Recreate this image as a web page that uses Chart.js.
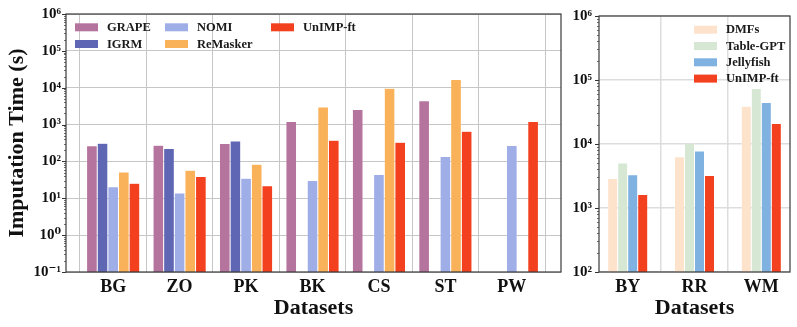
<!DOCTYPE html>
<html><head><meta charset="utf-8">
<script src="https://cdn.jsdelivr.net/npm/chart.js@4/dist/chart.umd.min.js"></script>
<style>
html,body{margin:0;padding:0;background:#fff;}
#wrap{position:relative;width:797px;height:327px;overflow:hidden;}
#c1box{position:absolute;left:0;top:0;width:566px;height:327px;}
#c2box{position:absolute;left:566px;top:0;width:231px;height:327px;}
</style></head><body>
<div id="wrap"><div id="c1box"><canvas id="c1"></canvas></div><div id="c2box"><canvas id="c2"></canvas></div></div>
<script>
// ---- data (left panel) ----
const leftCategories = ['BG','ZO','PK','BK','CS','ST','PW'];
const GRAPE     = [265, 275, 305, 1210, 2580, 4430, null];
const IGRM      = [310, 225, 360, null, null, null, null];
const NOMI      = [20.5, 14, 35, 30.5, 44, 136, 270];
const ReMasker  = [51.5, 58, 84, 3000, 9600, 16700, null];
const UnIMPLeft = [25.6, 39, 22, 375, 330, 655, 1210];
const leftYTicks = [0.1, 1, 10, 100, 1e3, 1e4, 1e5, 1e6];
const leftYTickLabels = ['10⁻¹','10⁰','10¹','10²','10³','10⁴','10⁵','10⁶'];

// ---- data (right panel) ----
const rightCategories = ['BY','RR','WM'];
const DMFs       = [2900, 6300, 39000];
const TableGPT   = [5050, 10200, 73500];
const Jellyfish  = [3300, 7800, 44700];
const UnIMPRight = [1620, 3220, 21000];
const rightYTicks = [1e2, 1e3, 1e4, 1e5, 1e6];
const rightYTickLabels = ['10²','10³','10⁴','10⁵','10⁶'];

const FONT = "'Liberation Serif','DejaVu Serif',serif";
const TXT = '#111';

function pts(arr){ return arr.map((v,i)=>({x:i, y:v})); }
function ds(label, arr, color){
  return {label, data:pts(arr), backgroundColor:color, borderColor:'rgba(255,255,255,0.35)', borderWidth:0.5, borderSkipped:'bottom'};
}

const decor = {
  id:'decor',
  afterDraw(chart, args, o){
    const ctx = chart.ctx, a = chart.chartArea, y = chart.scales.y;
    ctx.save();
    ctx.strokeStyle = '#333';
    const lo = Math.round(Math.log10(y.min)), hi = Math.round(Math.log10(y.max));
    for (let e = lo; e <= hi; e++){
      const py = Math.round(y.getPixelForValue(Math.pow(10,e))) + 0.5;
      ctx.lineWidth = 1;
      ctx.beginPath(); ctx.moveTo(a.left-4, py); ctx.lineTo(a.left, py); ctx.stroke();
      if (e < hi){
        for (let m = 2; m <= 9; m++){
          const pm = Math.round(y.getPixelForValue(m*Math.pow(10,e))) + 0.5;
          ctx.lineWidth = 0.7;
          ctx.beginPath(); ctx.moveTo(a.left-2, pm); ctx.lineTo(a.left, pm); ctx.stroke();
        }
      }
    }
    ctx.lineWidth = 1.2; ctx.strokeStyle = '#3a3a3a';
    ctx.strokeRect(a.left, a.top, a.right-a.left, a.bottom-a.top);
    ctx.font = 'bold 12.5px ' + FONT;
    ctx.textBaseline = 'middle'; ctx.textAlign = 'left';
    chart.data.datasets.forEach((d,i)=>{
      const col = Math.floor(i / o.rows), row = i % o.rows;
      const x = a.left + o.cols[col], yy = a.top + o.y0 + row*o.dy;
      ctx.fillStyle = d.backgroundColor;
      ctx.fillRect(x, yy-4, 23, 8);
      ctx.fillStyle = '#1a1a1a';
      ctx.fillText(d.label, x + 32, yy + 0.5);
    });
    ctx.restore();
  }
};

function makeChart(id, cats, datasets, yMin, yMax, yTicks, yLabels, xMin, xMax, catPct, yWidth, tickPad, padRight, gridColor, gridWidth, legendOpts, showYTitle){
  return new Chart(document.getElementById(id), {
    type:'bar',
    data:{datasets},
    options:{
      responsive:true, maintainAspectRatio:false, animation:false,
      categoryPercentage:catPct, barPercentage:1.0,
      layout:{padding:{left:0, top:12, right:padRight, bottom:0}},
      plugins:{legend:{display:false}, tooltip:{enabled:false}, decor:legendOpts},
      scales:{
        x:{type:'linear', min:xMin, max:xMax, offset:false,
           afterBuildTicks:s=>{ s.ticks = cats.map((c,i)=>({value:i})); },
           ticks:{callback:(v,i)=>cats[i], font:{family:FONT, size:18, weight:'bold'}, color:TXT, padding:5, maxRotation:0, autoSkip:false},
           grid:{color:gridColor, lineWidth:gridWidth, drawTicks:false},
           border:{display:false},
           title:{display:true, text:'Datasets', font:{family:FONT, size:22, weight:'bold', lineHeight:1}, color:TXT, padding:{top:0, bottom:8}},
           afterFit:s=>{ s.height = 55; }
        },
        y:{type:'logarithmic', min:yMin, max:yMax,
           afterBuildTicks:s=>{ s.ticks = yTicks.map(v=>({value:v, major:true})); },
           ticks:{callback:(v,i)=>yLabels[i], font:{family:FONT, size:15, weight:'bold'}, color:TXT, padding:tickPad, autoSkip:false},
           grid:{color:gridColor, lineWidth:gridWidth, drawTicks:false},
           border:{display:false},
           title:{display:showYTitle, text:'Imputation Time (s)', font:{family:FONT, size:22, weight:'bold', lineHeight:1}, color:TXT, padding:{top:6, bottom:0}},
           afterFit:s=>{ s.width = yWidth; }
        }
      }
    },
    plugins:[decor]
  });
}

makeChart('c1', leftCategories, [
  ds('GRAPE', GRAPE, '#b5749e'),
  ds('IGRM', IGRM, '#5f66b4'),
  ds('NOMI', NOMI, '#a0aee8'),
  ds('ReMasker', ReMasker, '#f9b25a'),
  ds('UnIMP-ft', UnIMPLeft, '#f3401f')
], 0.1, 1e6, leftYTicks, leftYTickLabels, -0.71, 6.74, 0.8, 66, 5, 5, '#c6c6c6', 1,
  {rows:2, cols:[9, 99, 205], y0:13.3, dy:16.7}, true);

makeChart('c2', rightCategories, [
  ds('DMFs', DMFs, '#fee3cc'),
  ds('Table-GPT', TableGPT, '#d6e8d4'),
  ds('Jellyfish', Jellyfish, '#7fb1e1'),
  ds('UnIMP-ft', UnIMPRight, '#f3401f')
], 1e2, 1e6, rightYTicks, rightYTickLabels, -0.43, 2.43, 0.6, 33, 7, 7, '#dddddd', 1.5,
  {rows:4, cols:[95], y0:13.7, dy:16.3}, false);
</script>
</body></html>
